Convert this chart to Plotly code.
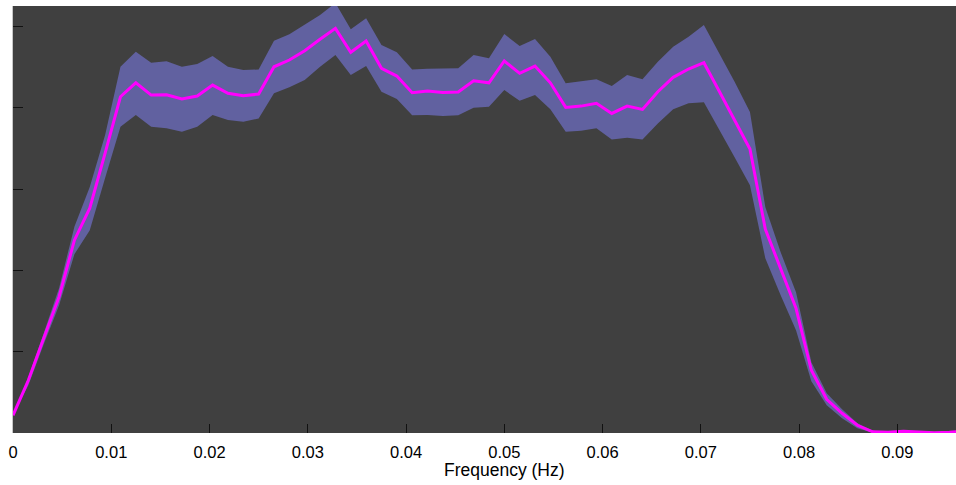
import numpy as np
import plotly.graph_objects as go

# Frequency bins (Hz), spacing 1/640 Hz
freq = np.arange(63) / 640.0

# Mean power spectrum
power_mean = [
    0.218, 0.649, 1.166, 1.675, 2.373, 2.767, 3.445, 4.138, 4.310, 4.159,
    4.163, 4.110, 4.147, 4.282, 4.180, 4.150, 4.171, 4.507, 4.590, 4.704,
    4.845, 4.980, 4.685, 4.824, 4.488, 4.393, 4.187, 4.208, 4.192, 4.196,
    4.335, 4.310, 4.578, 4.426, 4.516, 4.310, 4.007, 4.023, 4.057, 3.933,
    4.023, 3.983, 4.200, 4.377, 4.479, 4.557, 4.206, 3.853, 3.494, 2.509,
    2.028, 1.535, 0.772, 0.415, 0.243, 0.095, 0.015, 0.009, 0.021, 0.015,
    0.002, 0.009, 0.021,
]

# Upper edge of the confidence band
power_upper = [
    0.218, 0.686, 1.228, 1.782, 2.537, 3.026, 3.666, 4.507, 4.692, 4.557,
    4.574, 4.507, 4.541, 4.639, 4.507, 4.467, 4.473, 4.828, 4.906, 5.021,
    5.144, 5.292, 4.968, 5.103, 4.775, 4.685, 4.475, 4.483, 4.483, 4.488,
    4.651, 4.611, 4.910, 4.762, 4.849, 4.631, 4.303, 4.323, 4.352, 4.270,
    4.405, 4.352, 4.569, 4.754, 4.877, 5.021, 4.672, 4.323, 3.950, 2.780,
    2.225, 1.733, 0.871, 0.489, 0.292, 0.120, 0.027, 0.012, 0.024, 0.018,
    0.005, 0.012, 0.024,
]

# Lower edge of the confidence band
power_lower = [
    0.218, 0.588, 1.092, 1.573, 2.201, 2.496, 3.137, 3.768, 3.913, 3.768,
    3.749, 3.707, 3.768, 3.913, 3.851, 3.830, 3.872, 4.180, 4.254, 4.344,
    4.507, 4.651, 4.405, 4.516, 4.200, 4.110, 3.909, 3.913, 3.900, 3.909,
    4.002, 4.015, 4.220, 4.089, 4.159, 3.983, 3.707, 3.719, 3.749, 3.613,
    3.633, 3.613, 3.810, 3.983, 4.057, 4.069, 3.734, 3.395, 3.050, 2.151,
    1.696, 1.265, 0.637, 0.341, 0.181, 0.058, 0.002, 0.006, 0.018, 0.012,
    0.000, 0.006, 0.018,
]

x_ticks = [0, 0.01, 0.02, 0.03, 0.04, 0.05, 0.06, 0.07, 0.08, 0.09]
x_tick_text = ["0", "0.01", "0.02", "0.03", "0.04", "0.05", "0.06", "0.07", "0.08", "0.09"]
y_ticks = [1, 2, 3, 4, 5]
x_label = "Frequency (Hz)"

fig = go.Figure()

# Shaded band between upper and lower edges
band_x = list(freq) + list(freq[::-1])
band_y = list(power_upper) + list(power_lower[::-1])
fig.add_trace(go.Scatter(
    x=band_x, y=band_y,
    fill="toself", fillcolor="rgb(97,97,160)",
    line=dict(width=0), mode="lines",
    hoverinfo="skip", showlegend=False,
))

# Mean curve
fig.add_trace(go.Scatter(
    x=freq, y=power_mean, mode="lines",
    line=dict(color="#ff00ff", width=3),
    showlegend=False,
))

fig.update_layout(
    width=956, height=485,
    margin=dict(l=13, r=0, t=6, b=52),
    paper_bgcolor="white",
    plot_bgcolor="#404040",
    font=dict(family="Liberation Sans, Arial, sans-serif", size=16.5, color="#000"),
)

fig.update_xaxes(
    range=[0, 0.09597],
    tickvals=x_ticks, ticktext=x_tick_text,
    ticks="inside", ticklen=9, tickwidth=1, tickcolor="#111",
    ticklabelstandoff=7,
    showgrid=False, zeroline=False, showline=False,
)

# Axis label, centred under the full (wider) axes extent
fig.add_annotation(
    text=x_label, xref="paper", yref="paper",
    x=0.5207, y=-0.0867, xanchor="center", yanchor="middle",
    showarrow=False, font=dict(size=17.5, color="#000"),
)

fig.update_yaxes(
    range=[0, 5.255],
    tickvals=y_ticks, showticklabels=False,
    ticks="inside", ticklen=10, tickwidth=1, tickcolor="#111",
    showgrid=False, zeroline=False,
    showline=True, linecolor="#c8c8c8", linewidth=1,
)

fig.write_html("out.html")
